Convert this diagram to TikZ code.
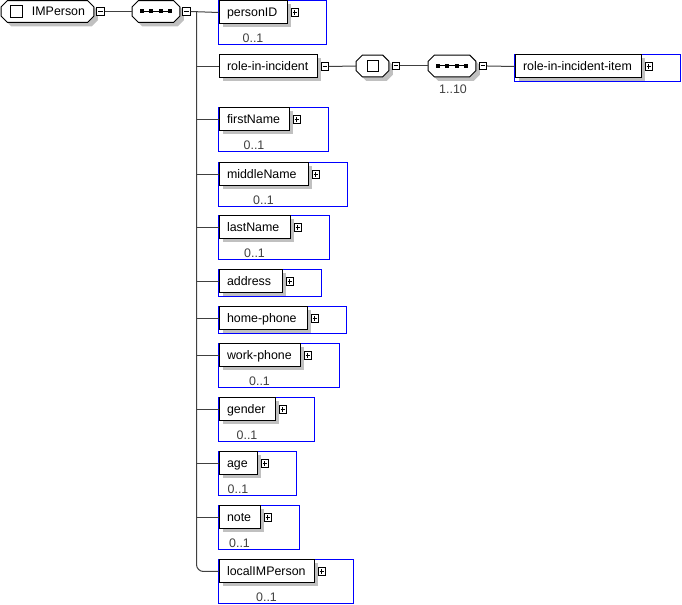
\documentclass[tikz,border=0pt]{standalone}
\usepackage{fontspec}
\setmainfont{Liberation Sans}
\usetikzlibrary{calc}
\definecolor{linec}{RGB}{64,64,64}
\definecolor{shadowc}{RGB}{192,192,192}
\definecolor{occc}{RGB}{64,64,64}
\definecolor{blueb}{RGB}{0,0,255}
\tikzset{
 conn/.style={color=linec, draw, line width=0.75pt},
 elbox/.style={draw=black, fill=white, line width=0.75pt, anchor=north west,
   minimum height=17.25pt, inner xsep=6pt, inner ysep=0pt, text height=6pt, text depth=0pt},
 shadowbox/.style={color=shadowc, fill, draw=none},
 octo/.style={draw=none, fill=none, minimum height=15.75pt, inner sep=0pt},
 pmbox/.style={draw=black, fill=white, line width=0.75pt, minimum size=5.6pt, inner sep=0pt},
 minusbox/.style={pmbox, path picture={\draw[black, line width=0.75pt]
   ([xshift=1.1pt]path picture bounding box.west) -- ([xshift=-1.1pt]path picture bounding box.east);}},
 plusbox/.style={pmbox, path picture={\draw[black, line width=0.75pt]
   ([xshift=1.1pt]path picture bounding box.west) -- ([xshift=-1.1pt]path picture bounding box.east)
   ([yshift=-1.1pt]path picture bounding box.north) -- ([yshift=1.1pt]path picture bounding box.south);}},
 occ/.style={text=occc, anchor=base, inner sep=0pt},
 bluebox/.style={color=blueb, draw, line width=0.75pt},
 sqmark/.style={draw=black, fill=white, line width=0.75pt, inner sep=0pt},
 lbl/.style={inner sep=0pt, text height=6pt, text depth=0pt},
}
% octagon outline around node #1, shifted by (#2,#3)
\newcommand{\octline}[3]{
  ([xshift=#2+4.5pt,yshift=#3]#1.north west) -- ([xshift=#2-4.5pt,yshift=#3]#1.north east)
  -- ([xshift=#2,yshift=#3-4.5pt]#1.north east) -- ([xshift=#2,yshift=#3+4.5pt]#1.south east)
  -- ([xshift=#2-4.5pt,yshift=#3]#1.south east) -- ([xshift=#2+4.5pt,yshift=#3]#1.south west)
  -- ([xshift=#2,yshift=#3+4.5pt]#1.south west) -- ([xshift=#2,yshift=#3-4.5pt]#1.north west) -- cycle}
\newcommand{\octdraw}[1]{
  \fill[shadowbox] \octline{#1}{3pt}{-3pt};
  \filldraw[fill=white, draw=black, line width=0.75pt] \octline{#1}{0pt}{0pt};}
\begin{document}
\begin{tikzpicture}[x=0.75pt, y=-0.75pt, font=\fontsize{9.3}{11}\selectfont]
\useasboundingbox (0,0) rectangle (682,605);
\begin{scope}[shift={(0.5,0.5)}]
% blue content boxes
\foreach \bx/\y/\bw/\bh in {218/0/108/44, 218/107/110/44, 218/162/129/44, 218/215/111/44,
  218/269/103/27, 218/306/128/27, 218/343/121/44, 218/397/96/44, 218/451/78/44,
  218/505/81/44, 218/559/135/44, 514/54/166/27}
  \draw[bluebox] (\bx,\y) rectangle ++(\bw,\bh);

% root element
\node[octo, minimum width=69pt] (imp) at (47,11) {};
\octdraw{imp}
\node[sqmark, minimum size=9pt] (impsq) at (16,11) {};
\node[lbl] (imptxt) at (58,11.5) {IMPerson};
\node[minusbox] (imp-pm) at (100,11) {};

% sequence 1
\node[octo, minimum width=35.25pt] (seq1) at (155.5,11) {};
\octdraw{seq1}
\node[minusbox] (seq1-pm) at (186,11) {};

\coordinate (trunk) at (196,11);

% children
\foreach \n/\t/\bx/\y/\w/\o in {
 personID/personID/218/0/68/1,
 firstName/firstName/218/107/70/1,
 middleName/middleName/218/162/89/1,
 lastName/lastName/218/215/71/1,
 address/address/218/269/63/0,
 homephone/home-phone/218/306/88/0,
 workphone/work-phone/218/343/81/1,
 gender/gender/218/397/56/1,
 age/age/218/451/38/1,
 note/note/218/505/41/1,
 localIMPerson/localIMPerson/218/559/95/1,
 item/role-in-incident-item/514/54/126/0}{
  \pgfmathsetmacro\tw{(\w-16)*0.75}
  \fill[shadowbox] (\bx+4,\y+4) rectangle ++(\w,23);
  \node[elbox] (\n) at (\bx,\y) {\makebox[\tw pt][l]{\t}};
  \node[plusbox] (\n-pm) at ([xshift=5.6pt]\n.east) {};
  \ifnum\o=1 \node[occ] (\n-occ) at ($(\n.south)+(0,18)$) {0..1};\fi
}

% role-in-incident
\fill[shadowbox] (222,58) rectangle ++(98,23);
\node[elbox] (rii) at (218,54) {\makebox[61.5pt][l]{role-in-incident}};
\node[minusbox] (rii-pm) at ([xshift=5.6pt]rii.east) {};

% choice
\node[octo, minimum width=24pt] (choice) at (372,65.5) {};
\octdraw{choice}
\node[sqmark, minimum size=8.25pt] (chsq) at (372.5,65.5) {};
\node[minusbox] (choice-pm) at (395.5,65.5) {};

% sequence 2
\node[octo, minimum width=35.25pt] (seq2) at (451.5,65.5) {};
\octdraw{seq2}
\node[minusbox] (seq2-pm) at (482.5,65.5) {};
\node[occ] (seq2-occ) at (452.5,93) {1..10};

% sequence marks
\foreach \s in {seq1,seq2}{
  \draw[black, line width=0.75pt] ($(\s.center)+(-15,0)$) -- ($(\s.center)+(15,0)$);
  \foreach \d in {-14,-4.67,4.67,14}
    \fill[black] ($(\s.center)+(\d,0)+(-2,-2)$) rectangle ++(4,4);
}

% connectors
\draw[conn] (imp-pm.east) -- (seq1.west);
\draw[conn] (seq1-pm.east) -- (personID.west);
\draw[conn, rounded corners=5.25pt] (trunk) |- (localIMPerson.west);
\foreach \n in {rii,firstName,middleName,lastName,address,homephone,workphone,gender,age,note}
  \draw[conn] (trunk |- \n.west) -- (\n.west);
\draw[conn] (rii-pm.east) -- (choice.west);
\draw[conn] (choice-pm.east) -- (seq2.west);
\draw[conn] (seq2-pm.east) -- (item.west);
\end{scope}
\end{tikzpicture}
\end{document}
